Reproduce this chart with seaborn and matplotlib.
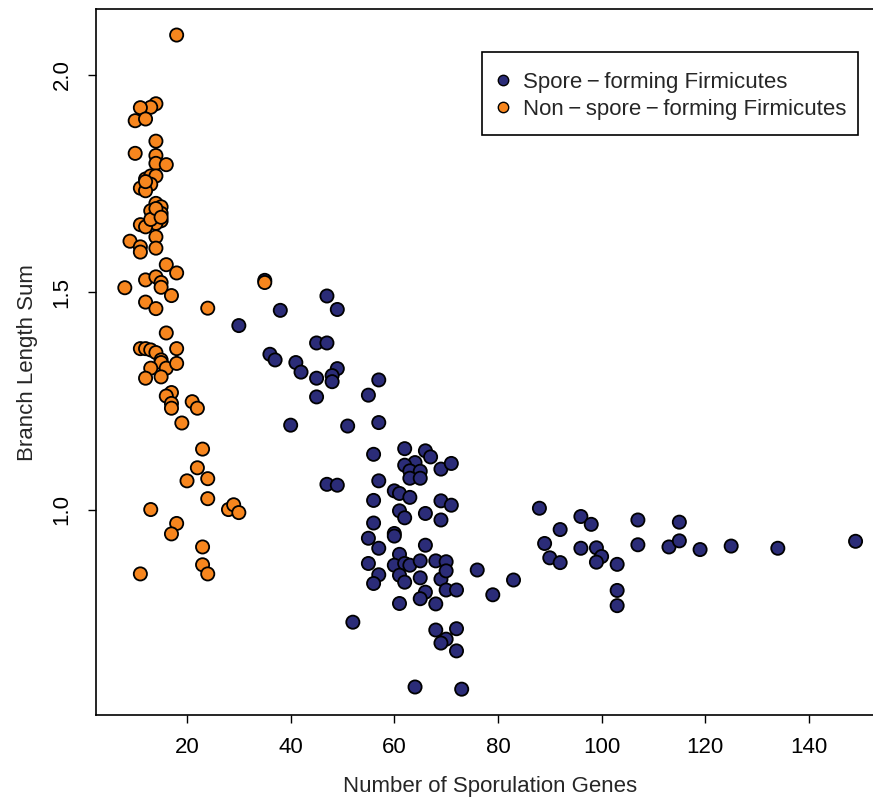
import numpy as np
import pandas as pd
import matplotlib
matplotlib.use("Agg")
import matplotlib.pyplot as plt
from matplotlib.lines import Line2D
from matplotlib.patches import Rectangle
import seaborn as sns

# Spore-forming Firmicutes
spore_x = [35, 47, 49, 38, 30, 45, 47, 36, 37, 41, 42, 49, 48, 48, 45, 57, 55, 45,
           40, 51, 57, 56, 62, 64, 66, 67, 62, 63, 65, 63, 65, 69, 71, 57, 47, 49,
           60, 61, 63, 56, 69, 71, 61, 62, 66, 69, 56, 60, 60, 55, 57, 66, 61, 55,
           60, 62, 63, 65, 68, 70, 76, 57, 56, 61, 62, 65, 69, 70, 83, 66, 65, 70,
           72, 79, 61, 68, 52, 68, 72, 70, 69, 72, 64, 73, 88, 92, 89, 90, 92, 96,
           98, 96, 99, 100, 99, 103, 103, 103, 107, 107, 113, 115, 115, 119, 125,
           134, 149]
spore_y = [1.527, 1.491, 1.460, 1.458, 1.423, 1.383, 1.383, 1.357, 1.344, 1.338,
           1.316, 1.324, 1.308, 1.294, 1.302, 1.298, 1.263, 1.259, 1.194, 1.192,
           1.200, 1.127, 1.140, 1.108, 1.135, 1.121, 1.102, 1.089, 1.088, 1.072,
           1.072, 1.093, 1.106, 1.066, 1.058, 1.056, 1.043, 1.037, 1.028, 1.021,
           1.020, 1.010, 0.997, 0.981, 0.991, 0.976, 0.969, 0.945, 0.939, 0.934,
           0.911, 0.918, 0.897, 0.876, 0.872, 0.876, 0.872, 0.882, 0.882, 0.880,
           0.861, 0.850, 0.830, 0.849, 0.833, 0.843, 0.840, 0.859, 0.838, 0.810,
           0.795, 0.815, 0.815, 0.804, 0.784, 0.783, 0.741, 0.723, 0.726, 0.702,
           0.693, 0.675, 0.592, 0.587, 1.003, 0.954, 0.922, 0.889, 0.878, 0.984,
           0.966, 0.911, 0.912, 0.892, 0.879, 0.874, 0.814, 0.779, 0.976, 0.919,
           0.914, 0.971, 0.928, 0.908, 0.916, 0.911, 0.927]

# Non-spore-forming Firmicutes
non_x = [18, 14, 13, 11, 10, 12, 14, 10, 14, 14, 16, 12, 13, 14, 13, 11, 12, 12,
         14, 15, 13, 15, 14, 15, 14, 11, 12, 14, 9, 11, 14, 11, 16, 18, 12, 14,
         15, 15, 8, 17, 12, 14, 24, 35, 16, 11, 12, 13, 14, 18, 15, 15, 16, 18,
         13, 12, 15, 17, 16, 17, 17, 21, 22, 19, 23, 22, 20, 24, 24, 13, 28, 29,
         30, 18, 17, 23, 23, 24, 11, 13, 14, 15]
non_y = [2.091, 1.933, 1.925, 1.924, 1.894, 1.898, 1.847, 1.819, 1.814, 1.796,
         1.793, 1.760, 1.767, 1.767, 1.748, 1.739, 1.733, 1.754, 1.704, 1.696,
         1.687, 1.681, 1.669, 1.664, 1.658, 1.655, 1.650, 1.627, 1.617, 1.604,
         1.601, 1.592, 1.563, 1.544, 1.528, 1.535, 1.522, 1.511, 1.510, 1.492,
         1.477, 1.462, 1.463, 1.522, 1.406, 1.370, 1.370, 1.367, 1.361, 1.370,
         1.344, 1.338, 1.325, 1.336, 1.325, 1.302, 1.305, 1.269, 1.261, 1.244,
         1.233, 1.248, 1.233, 1.199, 1.139, 1.096, 1.066, 1.071, 1.025, 1.000,
         1.000, 1.011, 0.993, 0.968, 0.944, 0.914, 0.873, 0.852, 0.852, 1.667,
         1.692, 1.672]

groups = ["Spore\u2009\u2212\u2009forming Firmicutes",
          "Non\u2009\u2212\u2009spore\u2009\u2212\u2009forming Firmicutes"]
colors = ["#2B2C78", "#F7861E"]

df = pd.DataFrame({
    "genes": spore_x + non_x,
    "bls": spore_y + non_y,
    "group": [groups[0]] * len(spore_x) + [groups[1]] * len(non_x),
})

sns.set_style("ticks")
plt.rcParams["font.family"] = ["Liberation Sans", "DejaVu Sans"]

FS = 16

fig = plt.figure(figsize=(8.73, 7.99), dpi=100)
ax = fig.add_axes([0.1095, 0.1048, 0.904, 0.884])

sns.scatterplot(data=df, x="genes", y="bls", hue="group", hue_order=groups,
                palette=colors, s=90, edgecolor="black", linewidth=1.3,
                legend=False, ax=ax, zorder=3)

ax.set_xlim(2.36, 154.64)
ax.set_ylim(0.527, 2.151)
ax.set_xticks([20, 40, 60, 80, 100, 120, 140])
ax.set_yticks([1.0, 1.5, 2.0])
ax.set_yticklabels(["1.0", "1.5", "2.0"], rotation=90, va="center")

for sp in ax.spines.values():
    sp.set_visible(True)
    sp.set_color("black")
    sp.set_linewidth(1.2)

ax.tick_params(axis="both", direction="out", length=5.5, width=1.0,
               color="black", labelsize=FS, labelcolor="black")
ax.tick_params(axis="x", pad=10)
ax.tick_params(axis="y", pad=11)

ax.set_xlabel("Number of Sporulation Genes", fontsize=FS, labelpad=13)
ax.set_ylabel("Branch Length Sum", fontsize=FS, labelpad=10)

# legend frame
ax.add_patch(Rectangle((0.4895, 0.8214), 0.9659 - 0.4895, 0.9389 - 0.8214,
                       transform=ax.transAxes, facecolor="white",
                       edgecolor="black", linewidth=1.2, zorder=5))

handles = [Line2D([0], [0], marker="o", linestyle="none", markersize=7.5,
                  markerfacecolor=c, markeredgecolor="black",
                  markeredgewidth=1.0) for c in colors]
leg = ax.legend(handles, groups, loc="center left",
                bbox_to_anchor=(0.5022, 0.8766), fontsize=FS,
                frameon=False, borderpad=0, handletextpad=0.4,
                labelspacing=0.27, handlelength=1.0, borderaxespad=0)
leg.set_zorder(6)

fig.savefig("out.png", dpi=100)
